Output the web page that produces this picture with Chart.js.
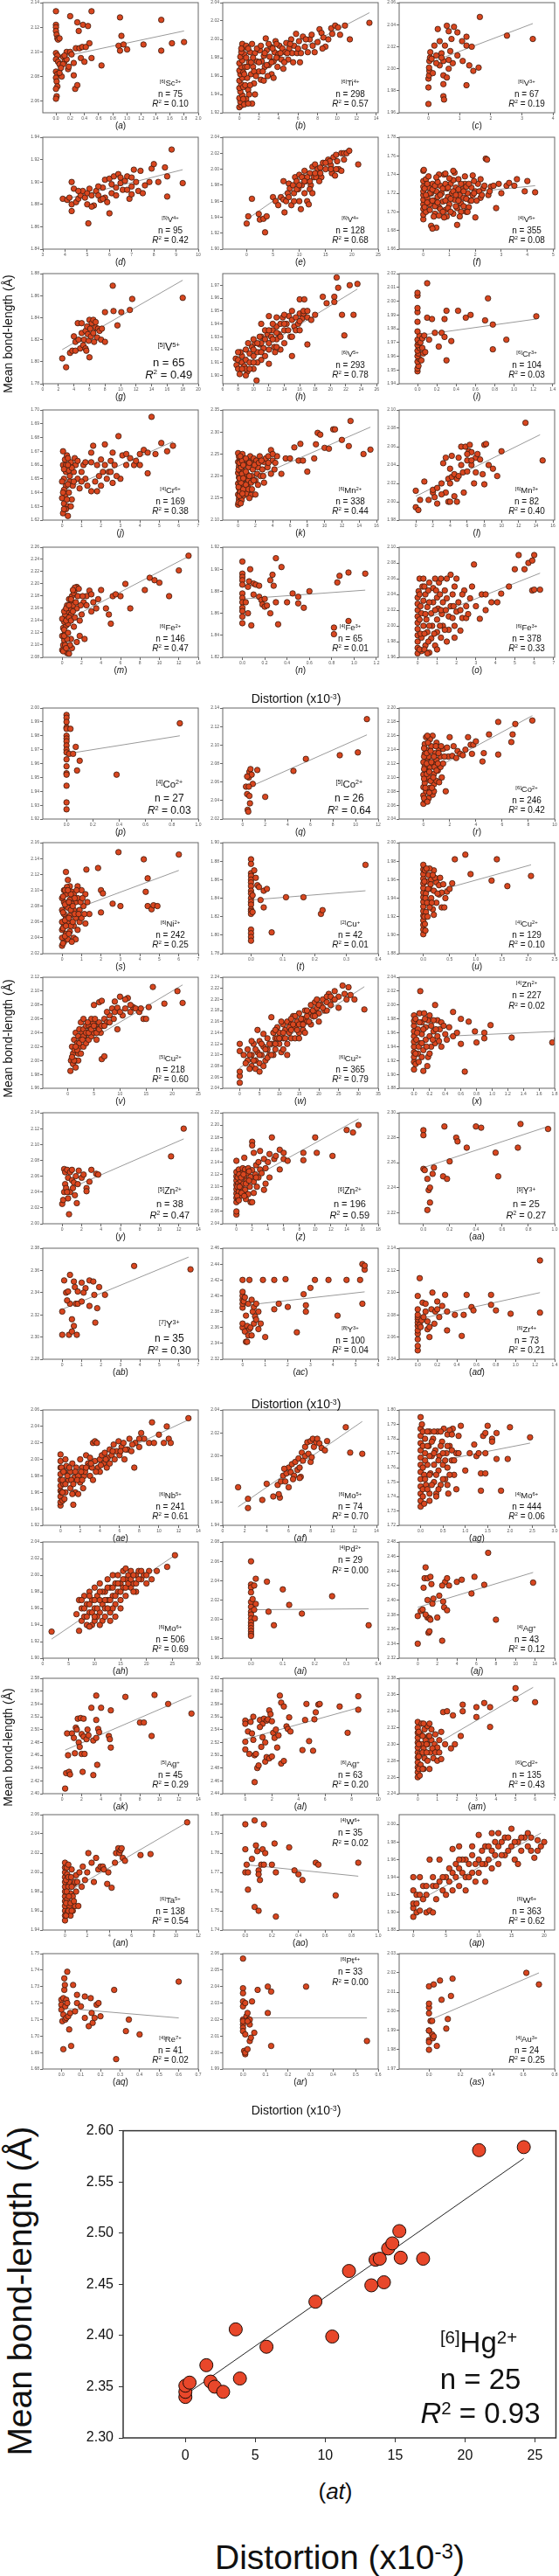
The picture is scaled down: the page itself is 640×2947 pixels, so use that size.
<!DOCTYPE html>
<html>
<head>
<meta charset="utf-8">
<script src="https://cdn.jsdelivr.net/npm/chart.js@4.4.1/dist/chart.umd.min.js"></script>
<style>
body { margin:0; width:640px; height:2947px; position:relative; background:#fff; overflow:hidden; font-family: Arial, "Liberation Sans", sans-serif; }
canvas { position:absolute; }
.t { position:absolute; white-space:nowrap; transform:translate(-50%,-50%); color:#111; line-height:1; }
.rot { transform:translate(-50%,-50%) rotate(-90deg); }
sup { font-size:.62em; vertical-align:baseline; position:relative; top:-.5em; }
</style>
</head>
<body>
<script>
// panel ids, ions and fit statistics
const panelIds = ['a','b','c','d','e','f','g','h','i','j','k','l','m','n','o','p','q','r','s','t','u','v','w','x','y','z',
  'aa','ab','ac','ad','ae','af','ag','ah','ai','aj','ak','al','am','an','ao','ap','aq','ar','as'];
const coordNo = [6,6,6,5,6,4,5,6,6,4,6,6,6,4,6, 4,5,6,6,2,4,5,6,4,5,6,6,7,8,6, 6,6,4,6,4,4,5,6,6,6,4,6,4,6,4];
const elements = ['Sc','Ti','V','V','V','V','V','V','Cr','Cr','Mn','Mn','Fe','Fe','Fe',
  'Co','Co','Co','Ni','Cu','Cu','Cu','Cu','Zn','Zn','Zn','Y','Y','Y','Zr',
  'Nb','Mo','Mo','Mo','Pd','Ag','Ag','Ag','Cd','Ta','W','W','Re','Pt','Au'];
const charges = ['3+','4+','3+','4+','4+','5+','5+','5+','3+','6+','2+','3+','2+','3+','3+',
  '2+','2+','2+','2+','+','2+','2+','2+','2+','2+','2+','3+','3+','3+','4+',
  '5+','5+','6+','6+','2+','+','+','+','2+','5+','6+','6+','7+','4+','3+'];
const nValues = [75,298,67,95,128,355,65,293,104,169,338,82,146,65,378,
  27,26,246,242,42,129,218,365,227,38,196,25,35,100,73,
  241,74,444,506,29,43,45,63,135,138,35,363,41,33,24];
const r2Values = ['0.10','0.57','0.19','0.42','0.68','0.08','0.49','0.78','0.03','0.38','0.44','0.40','0.47','0.01','0.33',
  '0.03','0.64','0.42','0.25','0.01','0.10','0.60','0.79','0.02','0.47','0.59','0.27','0.30','0.04','0.21',
  '0.61','0.70','0.06','0.69','0.00','0.12','0.29','0.20','0.43','0.54','0.02','0.62','0.02','0.00','0.25'];
const annTop = ['x','ai','ao','ar'];
const annSize = [10,10,10,10,10,10,13,10,10,10,10,10,10,10,10, 12,12,10,10,10,10,10,10,10,11,11,11,12,10,10, 10,10,10,10,10,10,10,10,10,10,10,10,10,10,10];

// axis ranges and tick labels
const xMin = [-0.185,-1.7,-0.94,3,-4.55,-0.93,0,6,-0.19,-0.99,-1.78,-1.94,-2,-0.176,-0.95,
  -0.18,-1.76,-1.85,-0.99,-0.089,-0.46,-4.8,-4.3,-0.19,-2,-1.74,-0.185,-1,-0.88,-0.19,
  -1.8,0,-0.48,0,-0.089,-1.9,-2,-1.7,-0.95,-2,-0.17,-2.16,-0.095,-0.09,-0.19];
const xMax = [2.0,14.2,4.05,10,25,5.05,20,26.2,1.42,7,16.2,16.2,14,1.216,7.05,
  1.0,12,10,7,0.4,2.5,25,35,1.8,14,18,1.0,7,6,1.4,
  14,14.15,3.0,30,0.4,14,14,10,7,12,1.0,21.6,0.7,0.6,0.8];
const xTickFrom = [0,0,0,3,0,0,0,6,0,0,0,0,0,0,0, 0,0,0,0,0,0,0,0,0,0,0,0,0,0,0, 0,0,0,0,0,0,0,0,0,0,0,0,0,0,0];
const xTickTo = [2,14,4,10,25,5,20,26,1.4,7,16,16,14,1.2,7,
  1,12,10,7,0.4,2.5,25,35,1.8,14,18,1,7,6,1.4,
  14,14,3,30,0.4,14,14,10,7,12,1,20,0.7,0.6,0.8];
const xTickStep = [0.2,2,1,1,5,1,2,2,0.2,1,2,2,2,0.2,1,
  0.2,2,2,1,0.1,0.5,5,5,0.2,2,2,0.2,1,1,0.2,
  2,2,0.5,5,0.1,2,2,2,1,2,0.2,5,0.1,0.1,0.2];
const xDecimals = [1,0,0,0,0,0,0,0,1,0,0,0,0,1,0, 1,0,0,0,1,1,0,0,1,0,0,1,0,0,1, 0,0,1,0,1,0,0,0,0,0,1,0,1,1,1];
const yMin = [2.0506,1.92,1.96,1.84,1.90,1.66,1.78,1.8935,1.94,1.62,2.10,1.98,2.08,1.82,1.96,
  1.92,2.02,2.04,2.02,1.78,1.88,1.96,2.04,1.88,2.00,2.04,2.211,2.28,2.32,2.04,
  1.92,1.94,1.72,1.90,1.96,2.32,2.40,2.44,2.24,1.94,1.74,1.88,1.68,1.99,1.97];
const yMax = [2.14,2.04,2.06,1.94,2.04,1.78,1.88,1.979,2.02,1.70,2.35,2.10,2.26,1.92,2.10,
  2.00,2.14,2.20,2.16,1.90,2.00,2.12,2.24,2.04,2.14,2.22,2.30,2.38,2.46,2.14,
  2.06,2.04,1.80,2.04,2.08,2.48,2.58,2.62,2.38,2.06,1.80,2.011,1.75,2.06,2.03];
const yTickFrom = [2.06,1.92,1.96,1.84,1.90,1.66,1.78,1.90,1.94,1.62,2.10,1.98,2.08,1.82,1.96,
  1.92,2.02,2.04,2.02,1.78,1.88,1.96,2.04,1.88,2.00,2.04,2.22,2.28,2.32,2.04,
  1.92,1.94,1.72,1.90,1.96,2.32,2.40,2.44,2.24,1.94,1.74,1.88,1.68,1.99,1.97];
const yTickTo = [2.14,2.04,2.06,1.94,2.04,1.78,1.88,1.97,2.02,1.70,2.35,2.10,2.26,1.92,2.10,
  2.00,2.14,2.20,2.16,1.90,2.00,2.12,2.24,2.04,2.14,2.22,2.30,2.38,2.46,2.14,
  2.06,2.04,1.80,2.04,2.08,2.48,2.58,2.62,2.38,2.06,1.80,2.00,1.75,2.06,2.03];
const yTickStep = [0.02,0.02,0.02,0.02,0.02,0.02,0.02,0.01,0.01,0.01,0.05,0.02,0.02,0.02,0.02,
  0.01,0.02,0.02,0.02,0.02,0.02,0.02,0.02,0.02,0.02,0.02,0.02,0.02,0.02,0.02,
  0.02,0.02,0.01,0.02,0.02,0.02,0.02,0.02,0.02,0.02,0.01,0.02,0.01,0.01,0.01];

// regression lines (start and end)
const trendX0 = [0,0,0,3.9,0,0,2.5,7.7,0,0,0,0,0,0,0, 0,0.3,0,0.2,0,0.4,1,0,0.4,1.8,0,0,0,0.4,0,
  0,1.4,0.3,1.7,0,0,0.3,0,0,0,0,0,0,0,0.02];
const trendY0 = [2.095,1.955,2.005,1.884,1.937,1.716,1.811,1.909,1.975,1.641,2.18,2.006,2.137,1.873,2.005,
  1.967,2.053,2.104,2.072,1.838,1.95,2.015,2.077,1.955,2.05,2.1,2.256,2.325,2.389,2.076,
  1.975,1.956,1.764,1.923,2.01,2.39,2.468,2.525,2.287,1.978,1.774,1.91,1.717,2.021,1.996];
const trendX1 = [1.8,13.3,3.35,9.3,19.5,4.3,18,23.5,1.23,5.7,15.3,14.5,13,1.1,6.3,
  0.86,11,8.3,6,0.36,2.05,22,31.5,1.83,12.5,15.5,0.95,6.5,5.4,1.25,
  13,12.7,2.45,25.5,0.37,11.8,13.3,8.5,5.9,11,0.85,19.5,0.6,0.55,0.7];
const trendY1 = [2.117,2.029,2.041,1.911,2.027,1.728,1.874,1.967,1.987,1.677,2.311,2.073,2.245,1.881,2.067,
  1.98,2.111,2.189,2.125,1.848,1.976,2.109,2.223,1.962,2.107,2.21,2.289,2.372,2.405,2.1,
  2.048,2.03,1.777,2.024,2.011,2.438,2.553,2.574,2.369,2.052,1.768,1.99,1.711,2.021,2.02];

// data points [distortion, mean bond length]
const pA = [[0,2.133],[0,2.122],[0,2.12],[0,2.117],[0.01,2.114],[0.02,2.111],[0.03,2.11],[0,2.099],[0.02,2.097],[0,2.094],[0.03,2.092],[0,2.084],[0.02,2.082],[0,2.079],[0.01,2.076],[0.02,2.072],[0,2.07],[0.01,2.064],[0,2.062],[0.05,2.111],[0.05,2.09],[0.08,2.08],[0.1,2.096],[0.12,2.092],[0.15,2.094],[0.15,2.1],[0.17,2.086],[0.18,2.088],[0.2,2.129],[0.2,2.1],[0.22,2.098],[0.25,2.091],[0.25,2.081],[0.27,2.07],[0.28,2.103],[0.3,2.073],[0.3,2.124],[0.32,2.117],[0.33,2.103],[0.35,2.095],[0.37,2.104],[0.38,2.122],[0.4,2.092],[0.42,2.104],[0.45,2.121],[0.47,2.107],[0.5,2.133],[0.5,2.095],[0.64,2.089],[0.88,2.105],[0.9,2.128],[0.9,2.101],[0.92,2.113],[0.95,2.106],[1.0,2.102],[1.23,2.106],[1.48,2.126],[1.48,2.101],[1.63,2.107],[1.8,2.108],[0.1,2.09],[0.12,2.097],[0.05,2.083],[0.07,2.087]];
const pB = [[0,1.926],[0.2,1.928],[0.1,1.932],[0,1.936],[0.3,1.939],[0.1,1.943],[0,1.947],[0.2,1.951],[0.4,1.948],[0,1.955],[0.3,1.958],[0.1,1.962],[0,1.966],[0.4,1.964],[0.2,1.97],[0,1.974],[0.3,1.977],[0.1,1.981],[0.5,1.984],[0.2,1.986],[0.4,1.991],[0.3,1.995],[0.7,1.993],[0.6,1.97],[0.8,1.958],[0.9,1.945],[0.7,1.935],[1.0,1.975],[1.1,1.986],[1.2,1.962],[1.4,1.97],[1.5,1.952],[1.6,1.94],[1.6,1.985],[1.8,1.976],[2.0,1.965],[2.1,1.988],[2.2,1.956],[2.3,1.976],[2.5,1.982],[2.6,1.97],[2.7,2.001],[2.8,1.988],[3.0,1.972],[3.1,1.981],[3.2,1.992],[3.3,1.962],[3.5,1.976],[3.6,1.986],[3.7,1.998],[3.9,1.97],[4.0,1.984],[4.1,1.993],[4.3,1.978],[4.4,1.99],[4.5,1.968],[4.7,1.986],[4.8,1.996],[5.0,1.978],[5.1,1.99],[5.3,2.0],[5.4,1.985],[5.6,1.993],[5.8,2.006],[5.9,1.985],[6.1,1.998],[6.3,1.985],[6.5,2.003],[6.7,1.992],[7.0,1.986],[7.2,2.0],[7.5,1.993],[7.7,1.986],[8.0,1.997],[8.2,2.011],[8.4,2.007],[8.6,2.002],[8.8,1.992],[9.1,2.0],[9.4,2.012],[9.8,2.015],[10.3,2.005],[11.3,2.0],[13.3,2.018],[1.0,1.94],[1.3,1.93],[2.5,1.955],[3.5,1.958],[0.5,1.929],[0.2,1.99],
  [0.6,1.95],[0.5,1.962],[0.7,1.98],[0.9,1.99],[1.1,1.95],[1.2,1.975],[1.3,1.995],[1.5,1.965],[1.7,1.96],[1.8,1.99],[2,1.975],[2.2,1.993],[2.4,1.965],[2.6,1.985],[2.9,1.96],[3,1.995],[3.3,1.975],[3.4,1.99],[3.8,1.98],[4.2,1.985],[4.6,1.975],[5.2,1.995],[5.5,1.975],[6,1.99],[6.8,2.0],[0.9,1.93],[0.4,1.935],[0.8,1.97],[1.4,1.98],[2.8,1.972],[3.8,1.995],[4.9,1.985],[6.2,1.975],[7.4,2.005],[8.5,1.99],[9.5,2.006],[10.1,2.013],[10.8,2.015]];
const pC = [[0,1.968],[0,1.983],[0,1.991],[0.02,1.994],[0.03,1.998],[0.02,2.001],[0.03,2.007],[0.05,2.01],[0.06,2.015],[0.1,2.009],[0.25,2.012],[0.3,2.036],[0.36,2.003],[0.42,2.014],[0.53,2.021],[0.48,2.007],[0.48,1.994],[0.48,1.986],[0.48,1.975],[0.5,1.972],[0.59,2.039],[0.65,2.034],[0.74,2.027],[0.7,2.016],[0.78,2.005],[0.65,2.0],[0.59,1.992],[0.93,2.033],[1.08,2.025],[0.93,2.012],[1.1,2.007],[1.22,2.029],[1.22,2.021],[1.22,1.985],[1.39,2.02],[1.44,1.998],[1.31,2.003],[1.61,2.001],[1.65,2.047],[2.52,2.03],[3.35,2.027],[0.19,2.021],[0.36,2.025],[0.65,2.008],[0.82,2.038],[0.14,1.996],[0.25,2.005],[0.42,2.01]];
const pD = [[3.9,1.885],[4.1,1.884],[4.2,1.886],[4.3,1.88],[4.3,1.874],[4.3,1.9],[4.5,1.882],[4.6,1.885],[4.7,1.888],[4.8,1.892],[4.9,1.886],[5.0,1.89],[5.0,1.88],[5.05,1.863],[5.1,1.894],[5.2,1.888],[5.3,1.879],[5.4,1.892],[5.5,1.888],[5.6,1.884],[5.7,1.895],[5.8,1.902],[5.8,1.886],[5.9,1.882],[6.0,1.903],[6.0,1.872],[6.1,1.89],[6.2,1.905],[6.3,1.895],[6.3,1.888],[6.4,1.907],[6.5,1.899],[6.6,1.893],[6.7,1.901],[6.8,1.905],[6.8,1.893],[6.9,1.885],[7.0,1.904],[7.0,1.896],[7.1,1.911],[7.2,1.9],[7.3,1.892],[7.4,1.91],[7.5,1.89],[7.8,1.9],[7.9,1.912],[8.0,1.916],[8.2,1.9],[8.5,1.913],[8.6,1.905],[8.6,1.887],[8.8,1.929],[9.3,1.899],[4.4,1.894],[4.6,1.892],[5.5,1.896],[6.1,1.898],[6.5,1.904],[7.0,1.889],[7.6,1.897],[5.2,1.878],[5.7,1.885]];
const pE = [[0,1.932],[0.3,1.941],[1,1.963],[2.3,1.944],[2.5,1.937],[3.2,1.938],[3.5,1.921],[3.8,1.941],[5,1.965],[5.5,1.96],[6,1.955],[6.5,1.965],[7,1.985],[7,1.962],[7.2,1.946],[7.5,1.96],[7.8,1.97],[8,1.982],[8.2,1.976],[8.5,1.955],[8.8,1.98],[9,1.97],[9.2,1.99],[9.5,1.985],[9.8,1.975],[10,1.993],[10,1.96],[10.3,1.95],[10.5,1.98],[10.8,1.99],[11,1.998],[11,1.97],[11.3,1.985],[11.5,1.96],[11.8,1.956],[12,1.995],[12.2,1.98],[12.5,2.003],[12.8,1.99],[13,2.006],[13.2,1.99],[13.5,2.0],[14,2.002],[14.2,1.99],[14.5,2.008],[15,2.0],[15.5,2.012],[16,2.005],[16.2,1.995],[16.5,2.015],[17,2.018],[17.2,2.01],[17.5,2.0],[18,2.02],[18,1.998],[18.5,2.02],[19,2.02],[19.5,2.023],[21.2,2.006],[16.8,1.992],[15.8,2.01],[13.8,1.985],[12,1.985],
  [8,1.965],[9,1.96],[9.5,1.975],[10.5,1.99],[11.5,1.99],[12,1.975],[13,1.995],[14,1.995],[15,2.008],[16,2.0],[17,2.0],[18.5,2.012],[12.5,1.97],[10,1.98],[11,1.985]];
const pF = [[0,1.692],[0,1.697],[0,1.703],[0,1.708],[0,1.713],[0,1.718],[0,1.722],[0,1.727],[0,1.733],[0,1.744],[0.02,1.745],[0.1,1.7],[0.15,1.715],[0.2,1.726],[0.25,1.708],[0.3,1.685],[0.3,1.72],[0.35,1.73],[0.4,1.712],[0.45,1.698],[0.5,1.683],[0.5,1.722],[0.55,1.716],[0.6,1.705],[0.65,1.728],[0.7,1.72],[0.75,1.711],[0.8,1.74],[0.85,1.702],[0.9,1.725],[0.95,1.716],[1.0,1.708],[1.05,1.73],[1.1,1.72],[1.15,1.698],[1.2,1.713],[1.25,1.726],[1.3,1.686],[1.3,1.704],[1.35,1.735],[1.4,1.718],[1.45,1.709],[1.5,1.724],[1.55,1.715],[1.6,1.73],[1.65,1.7],[1.7,1.72],[1.8,1.712],[1.85,1.726],[1.9,1.718],[2.0,1.694],[2.0,1.722],[2.1,1.73],[2.2,1.715],[2.3,1.725],[2.4,1.757],[2.45,1.756],[2.5,1.718],[2.6,1.727],[2.8,1.704],[2.9,1.73],[3.0,1.72],[3.2,1.728],[3.3,1.731],[3.5,1.728],[3.6,1.735],[3.9,1.722],[4.0,1.733],[4.3,1.721],[0.1,1.735],[0.6,1.74],[1.2,1.742],[0.4,1.695],[0.9,1.695],
  [0.05,1.705],[0.05,1.725],[0.15,1.71],[0.15,1.73],[0.25,1.72],[0.25,1.702],[0.35,1.712],[0.35,1.724],[0.45,1.706],[0.45,1.728],[0.55,1.71],[0.55,1.732],[0.65,1.703],[0.65,1.718],[0.75,1.725],[0.75,1.7],[0.85,1.712],[0.85,1.73],[0.95,1.704],[0.95,1.726],[1.05,1.714],[1.05,1.7],[1.15,1.722],[1.15,1.734],[1.25,1.706],[1.25,1.718],[1.35,1.712],[1.35,1.724],[1.45,1.73],[1.45,1.7],[1.55,1.722],[1.55,1.706],[1.65,1.714],[1.65,1.727],[1.75,1.705],[1.75,1.73],[1.85,1.712],[1.95,1.72],[1.95,1.733],[2.05,1.712],[2.15,1.722],[2.25,1.718],[2.35,1.728],[2.55,1.722],[2.7,1.728],[0.1,1.718],[0.2,1.738],[0.5,1.737],[1.0,1.736],[1.6,1.738],[1.9,1.739],[2.2,1.735],[0.35,1.682],[0.6,1.696],[0.8,1.694],[1.4,1.695],[1.7,1.7],[0.85,1.741],[1.15,1.744]];
const pG = [[2.5,1.803],[3,1.795],[3.5,1.808],[3.8,1.81],[4,1.823],[4.2,1.818],[4.5,1.835],[4.6,1.82],[4.8,1.812],[5,1.835],[5,1.826],[5.2,1.815],[5.3,1.82],[5.5,1.828],[5.5,1.812],[5.7,1.832],[5.8,1.825],[5.9,1.819],[6,1.838],[6,1.804],[6.1,1.83],[6.2,1.823],[6.3,1.835],[6.5,1.838],[6.5,1.826],[6.6,1.818],[6.8,1.831],[7,1.822],[7.1,1.83],[7.3,1.828],[7.5,1.82],[8,1.845],[8,1.818],[9,1.869],[9.1,1.846],[9.6,1.833],[10.1,1.845],[11.2,1.847],[11.5,1.857],[18,1.858],[4.2,1.81],[5.6,1.81],[6.8,1.836],[7.6,1.83]];
const pH = [[7.7,1.913],[7.8,1.908],[8,1.905],[8,1.912],[8.2,1.901],[8.5,1.91],[8.5,1.915],[8.8,1.907],[9,1.92],[9,1.912],[9.2,1.903],[9.5,1.917],[9.5,1.91],[9.8,1.922],[10,1.915],[10,1.905],[10.2,1.925],[10.4,1.896],[10.5,1.918],[10.8,1.924],[11,1.93],[11,1.912],[11.3,1.921],[11.5,1.928],[11.8,1.932],[12,1.925],[12,1.946],[12,1.909],[12.3,1.93],[12.5,1.935],[12.7,1.922],[13,1.938],[13,1.928],[13.3,1.932],[13.5,1.94],[13.8,1.945],[14,1.935],[14,1.925],[14.3,1.94],[14.6,1.946],[14.8,1.93],[15,1.943],[15,1.915],[15.3,1.938],[15.5,1.945],[15.8,1.94],[16,1.948],[16,1.959],[16.3,1.944],[16.5,1.948],[16.6,1.959],[17,1.945],[17,1.924],[17.5,1.943],[18,1.947],[19,1.961],[19.5,1.956],[20.5,1.961],[20.5,1.957],[20.8,1.976],[21,1.968],[21.5,1.947],[21.8,1.931],[22.5,1.97],[23,1.947],[23.5,1.971],[8.3,1.918],[9.3,1.925],[10.5,1.91],[11.5,1.915],[12.8,1.918],[13.5,1.92],[14,1.947],[10.8,1.93],[12.5,1.94],[9,1.905],[10,1.92],[11,1.925],[13,1.945],
  [8.5,1.905],[9.5,1.905],[10,1.91],[10.5,1.925],[11,1.918],[11.5,1.935],[12,1.92],[12.5,1.928],[13,1.933],[13.5,1.93],[14,1.94],[14.5,1.935],[15,1.95],[15.5,1.935],[16,1.942],[16.5,1.95],[17,1.95],[11,1.94],[12,1.935],[13,1.922],[10,1.928],[9,1.9],[8,1.918],[15,1.93],[16,1.935]];
const pI = [[0,1.949],[0,1.951],[0.01,1.953],[0,1.956],[0.02,1.958],[0,1.96],[0.01,1.962],[0,1.964],[0.02,1.966],[0,1.968],[0.01,1.97],[0,1.972],[0.02,1.975],[0,1.978],[0,1.985],[0,1.992],[0,1.995],[0,2.004],[0,2.006],[0.03,1.97],[0.04,1.957],[0.05,1.966],[0.05,1.973],[0.06,1.962],[0.07,1.975],[0.08,1.963],[0.1,2.013],[0.1,1.988],[0.12,1.972],[0.15,1.987],[0.18,1.977],[0.22,1.967],[0.25,1.977],[0.28,1.974],[0.28,1.987],[0.3,1.957],[0.3,1.993],[0.35,1.971],[0.42,1.993],[0.5,1.988],[0.55,1.99],[0.7,1.986],[0.73,2.002],[0.78,1.983],[0.78,1.965],[0.92,1.972],[1.23,1.989]];
const pJ = [[0.05,1.625],[0.1,1.632],[0.15,1.638],[0.2,1.645],[0.1,1.65],[0.2,1.655],[0.05,1.66],[0.15,1.664],[0.25,1.667],[0.3,1.623],[0.3,1.63],[0.35,1.64],[0.4,1.648],[0.35,1.656],[0.45,1.662],[0.5,1.635],[0.55,1.645],[0.6,1.655],[0.7,1.66],[0.8,1.65],[0.9,1.643],[1,1.655],[1.1,1.66],[1.2,1.65],[1.3,1.645],[1.5,1.641],[1.5,1.662],[1.7,1.648],[1.8,1.66],[1.9,1.652],[2,1.664],[2,1.645],[2.1,1.655],[2.2,1.66],[2.3,1.65],[2.4,1.655],[2.5,1.663],[2.6,1.647],[2.7,1.66],[2.9,1.681],[3,1.65],[3.1,1.667],[3.3,1.66],[3.5,1.665],[3.7,1.66],[3.8,1.663],[4,1.668],[4.2,1.671],[4.4,1.654],[4.4,1.669],[4.6,1.695],[4.8,1.668],[5.1,1.676],[5.4,1.67],[5.7,1.674],[1.6,1.674],[1.5,1.669],[2.2,1.675],[1.8,1.641],[0.3,1.646],[0.4,1.652],[0.2,1.628],[0,1.636],[0.1,1.642],[0.05,1.67],[0.3,1.665],[0.2,1.66],[0.5,1.658],[0,1.648],[0.1,1.657],
  [0.1,1.628],[0.25,1.635],[0.05,1.64],[0.3,1.66],[0.6,1.648],[0.65,1.665],[0.45,1.63],[0.8,1.663],[1.0,1.648],[1.2,1.662],[2.5,1.655],[2.8,1.652],[3.3,1.668],[4.0,1.66],[2.6,1.669]];
const pK = [[0,2.135],[0.2,2.14],[0.1,2.148],[0.3,2.152],[0,2.158],[0.2,2.163],[0.4,2.168],[0.1,2.173],[0.3,2.178],[0,2.183],[0.2,2.188],[0.5,2.192],[0.1,2.197],[0.3,2.202],[0,2.207],[0.2,2.212],[0.4,2.217],[0.1,2.222],[0.3,2.227],[0,2.232],[0.2,2.238],[0.1,2.244],[0,2.252],[0.6,2.155],[0.8,2.165],[0.7,2.18],[0.9,2.195],[0.6,2.21],[0.8,2.225],[0.7,2.24],[1.0,2.16],[1.1,2.175],[1.2,2.19],[1.0,2.205],[1.2,2.22],[1.1,2.235],[1.4,2.245],[1.5,2.157],[1.5,2.185],[1.6,2.2],[1.7,2.215],[1.5,2.23],[1.8,2.24],[2.0,2.158],[2.0,2.19],[2.2,2.205],[2.3,2.22],[2.1,2.235],[2.5,2.245],[2.6,2.2],[2.8,2.215],[3.0,2.232],[3.2,2.24],[3.0,2.185],[3.4,2.22],[3.5,2.245],[3.8,2.259],[4.0,2.235],[4.2,2.215],[4.5,2.245],[5.0,2.205],[5.5,2.24],[6.0,2.24],[6.5,2.265],[7.0,2.235],[7.2,2.273],[7.5,2.235],[8.0,2.21],[8.8,2.24],[9.0,2.272],[9.2,2.298],[9.5,2.294],[10.0,2.264],[10.5,2.262],[11.0,2.306],[11.2,2.306],[12.0,2.282],[12.8,2.268],[13.0,2.325],[14.5,2.25],[15.3,2.26],[1.3,2.15],[0.4,2.145],[0.5,2.25],
  [0.05,2.14],[0.15,2.155],[0.25,2.165],[0.05,2.175],[0.35,2.185],[0.15,2.195],[0.45,2.205],[0.05,2.215],[0.35,2.22],[0.15,2.23],[0.45,2.235],[0.25,2.245],[0.6,2.17],[0.9,2.18],[0.6,2.195],[0.9,2.21],[0.6,2.225],[0.9,2.24],[1.2,2.17],[1.3,2.2],[1.3,2.23],[1.6,2.17],[1.8,2.19],[1.9,2.225],[2.3,2.18],[2.4,2.23],[2.7,2.235],[3.5,2.23],[4.0,2.25],[4.3,2.23],[2.9,2.2],[3.8,2.205],[0.5,2.16],[0.3,2.138]];
const pL = [[0,2.012],[0,1.994],[0.3,1.991],[0.5,2.002],[1,2.022],[1.5,2.002],[2,2.01],[2,2.013],[2.2,2.005],[2.5,2.015],[2.5,1.998],[3,2.02],[3.2,2.042],[3.5,2.048],[3.5,2.01],[3.8,2.025],[3.8,2.0],[4,2.02],[4,2.036],[4.2,2.05],[4.2,2.027],[4.5,2.03],[4.5,2.006],[4.8,2.025],[4.8,2.0],[5,2.028],[5,2.048],[5.3,2.06],[5.3,2.04],[5.5,2.032],[5.8,2.06],[6,2.045],[6,2.033],[6.2,2.055],[6.3,2.062],[6.5,2.04],[6.5,2.054],[6.8,2.02],[7,2.048],[7,2.032],[7.2,2.052],[7.5,2.046],[7.8,2.03],[8,2.062],[8,2.019],[8.2,2.063],[8.5,2.04],[9,2.036],[9.5,2.028],[10,2.055],[12.8,2.086],[14.8,2.045],[4,2.0],[3,2.008],[5.6,2.01],[6.5,2.045],[6,2.052]];
const pM = [[0.5,2.087],[0.7,2.086],[0,2.092],[0.1,2.1],[0.2,2.108],[0,2.115],[0.3,2.12],[0.1,2.128],[0.4,2.132],[0.2,2.138],[0,2.143],[0.5,2.145],[0.3,2.15],[0.6,2.155],[0.8,2.16],[0.5,2.165],[1,2.17],[0.7,2.175],[1,2.18],[1.2,2.185],[1.3,2.19],[1.5,2.195],[1.3,2.194],[1.7,2.192],[0.9,2.11],[1.2,2.13],[1.5,2.105],[1.8,2.115],[2,2.15],[2.2,2.17],[2.5,2.18],[2.8,2.189],[3,2.183],[3.2,2.17],[3.5,2.16],[3.7,2.175],[4,2.19],[4.5,2.16],[4.8,2.15],[5,2.135],[5.2,2.18],[5.5,2.183],[6,2.18],[6.5,2.2],[7,2.16],[8.5,2.19],[9,2.21],[9.5,2.206],[10,2.202],[11,2.18],[12,2.222],[13,2.246],[2.3,2.11],[1.8,2.14],[2.5,2.165],[3,2.155],[1,2.095],[1.5,2.16],[0.2,2.125],[0.6,2.135],[0.9,2.15],[1.1,2.165],
  [0.1,2.09],[0.3,2.1],[0.5,2.11],[0.2,2.115],[0.6,2.12],[0.4,2.14],[0.7,2.145],[0.9,2.14],[0.2,2.155],[0.4,2.16],[0.7,2.165],[1.1,2.155],[0.9,2.175],[1.4,2.17],[1.6,2.18],[1.1,2.19],[1.9,2.165],[2.1,2.18],[1.3,2.145],[0.8,2.1],[0.4,2.095]];
const pN = [[0,1.907],[0,1.896],[0,1.893],[0,1.89],[0,1.886],[0,1.878],[0,1.874],[0,1.87],[0,1.865],[0,1.862],[0,1.857],[0,1.851],[0.03,1.87],[0.05,1.884],[0.05,1.86],[0.06,1.889],[0.07,1.9],[0.08,1.849],[0.1,1.887],[0.12,1.886],[0.15,1.885],[0.15,1.875],[0.17,1.872],[0.18,1.868],[0.2,1.873],[0.2,1.866],[0.22,1.867],[0.25,1.89],[0.27,1.895],[0.28,1.885],[0.3,1.91],[0.3,1.87],[0.32,1.85],[0.35,1.902],[0.45,1.878],[0.5,1.875],[0.5,1.869],[0.55,1.865],[0.6,1.88],[0.82,1.847],[0.82,1.841],[0.85,1.888],[0.87,1.894],[0.95,1.897],[0.95,1.853],[1.1,1.896],[0.25,1.86],[0.4,1.87],[0.1,1.877]];
const pO = [[0,1.965],[0,1.972],[0,1.98],[0,1.988],[0,1.996],[0,2.004],[0,2.012],[0,2.02],[0,2.028],[0,2.036],[0.1,2.06],[0.05,2.044],[0.2,1.968],[0.2,1.985],[0.3,2.0],[0.2,2.016],[0.3,2.032],[0.25,2.05],[0.4,1.975],[0.5,1.992],[0.45,2.008],[0.5,2.024],[0.4,2.04],[0.6,2.055],[0.6,1.966],[0.7,1.984],[0.75,2.0],[0.7,2.016],[0.8,2.03],[0.8,2.048],[0.9,1.975],[1.0,1.992],[1.0,2.008],[1.05,2.022],[1.0,2.036],[1.1,2.055],[1.2,1.985],[1.3,2.0],[1.25,2.015],[1.3,2.03],[1.4,2.045],[1.5,1.98],[1.5,2.06],[1.6,1.995],[1.6,2.012],[1.7,2.025],[1.7,2.065],[1.8,2.04],[1.9,2.0],[2.0,2.018],[2.0,2.06],[2.1,2.03],[2.2,1.994],[2.3,2.01],[2.4,2.045],[2.5,2.01],[2.5,2.025],[2.7,2.035],[2.9,2.078],[3.0,2.025],[3.2,2.009],[3.3,2.04],[3.5,2.04],[3.8,2.03],[4.3,2.041],[4.7,2.05],[5.0,2.072],[5.2,2.09],[5.5,2.072],[5.7,2.08],[5.9,2.083],[6.0,2.09],[5.9,2.045],[6.0,2.046],[6.3,2.046],
  [0.1,1.97],[0.15,1.99],[0.1,2.008],[0.15,2.025],[0.1,2.04],[0.35,1.97],[0.35,1.99],[0.4,2.015],[0.35,2.05],[0.55,1.98],[0.6,2.0],[0.6,2.03],[0.55,2.045],[0.85,1.99],[0.9,2.02],[0.95,2.045],[1.15,2.0],[1.2,2.02],[1.15,2.04],[1.4,1.995],[1.45,2.02],[1.5,2.035],[1.8,2.01],[1.85,2.025],[2.2,2.02],[2.3,2.04],[2.6,2.015],[2.8,2.05],[1.9,2.05],[0.3,2.06],[0.9,2.06],[1.2,2.06],[0.5,1.965],[1.0,1.97],[1.9,1.985],[3.5,2.02],[4.1,2.03]];
const pP = [[0,1.995],[0,1.993],[0,1.99],[0,1.986],[0,1.985],[0,1.98],[0,1.978],[0,1.976],[0,1.973],[0,1.97],[0,1.968],[0,1.963],[0,1.958],[0,1.953],[0,1.952],[0,1.944],[0,1.932],[0,1.927],[0.02,1.967],[0.03,1.985],[0.05,1.967],[0.07,1.972],[0.08,1.955],[0.1,1.962],[0.38,1.952],[0.86,1.989]];
const pQ = [[0.3,2.055],[0.4,2.047],[0.45,2.03],[0.5,2.028],[0.55,2.065],[0.6,2.071],[0.65,2.037],[0.7,2.074],[0.8,2.068],[0.9,2.058],[1.3,2.073],[2,2.044],[4.5,2.072],[5.6,2.085],[8.6,2.089],[10.2,2.092],[11,2.128],[0.4,2.066],[0.55,2.055],[0.6,2.045]];
const pR = [[0,2.062],[0.1,2.068],[0,2.074],[0.2,2.08],[0,2.086],[0.1,2.092],[0.3,2.098],[0,2.104],[0.2,2.11],[0.1,2.116],[0,2.122],[0.3,2.128],[0.1,2.134],[0.2,2.14],[0.1,2.148],[0.2,2.158],[0.4,2.07],[0.5,2.085],[0.4,2.1],[0.5,2.115],[0.4,2.13],[0.6,2.145],[0.7,2.16],[0.7,2.075],[0.8,2.09],[0.8,2.105],[0.7,2.12],[0.9,2.135],[1.0,2.15],[1.0,2.095],[1.1,2.11],[1.0,2.125],[1.2,2.14],[1.3,2.115],[1.3,2.13],[1.5,2.141],[1.4,2.1],[0.8,2.08],[1.2,2.093],[1.7,2.08],[1.5,2.12],[1.8,2.143],[1.9,2.13],[2.0,2.158],[2.2,2.131],[2.5,2.128],[2.6,2.138],[2.8,2.134],[3.0,2.132],[3.4,2.158],[3.6,2.147],[3.7,2.134],[3.8,2.147],[4.0,2.152],[4.5,2.123],[4.6,2.135],[5.0,2.162],[5.7,2.18],[5.7,2.133],[6.7,2.151],[6.8,2.162],[7.0,2.177],[8.3,2.182],[0.5,2.155],[0.3,2.16],
  [0.05,2.07],[0.15,2.085],[0.05,2.098],[0.25,2.105],[0.05,2.112],[0.25,2.12],[0.05,2.13],[0.25,2.135],[0.05,2.142],[0.35,2.15],[0.45,2.078],[0.55,2.095],[0.45,2.108],[0.6,2.122],[0.55,2.138],[0.75,2.1],[0.85,2.115],[0.8,2.13],[0.95,2.145],[1.1,2.12],[1.15,2.135],[1.35,2.145],[1.6,2.13],[0.65,2.085],[1.0,2.11],[2.3,2.145],[3.2,2.14],[0.3,2.065]];
const pS = [[0,2.03],[0.1,2.035],[0,2.04],[0.2,2.045],[0,2.05],[0.1,2.055],[0,2.06],[0.2,2.065],[0.1,2.07],[0,2.075],[0.2,2.08],[0.1,2.085],[0,2.09],[0.2,2.095],[0.1,2.1],[0.3,2.038],[0.4,2.048],[0.3,2.058],[0.4,2.068],[0.3,2.078],[0.4,2.088],[0.5,2.098],[0.4,2.105],[0.6,2.04],[0.6,2.055],[0.7,2.065],[0.6,2.075],[0.7,2.085],[0.6,2.095],[0.8,2.105],[0.8,2.05],[0.9,2.06],[0.9,2.075],[0.8,2.09],[1.0,2.1],[1.0,2.065],[1.1,2.08],[1.2,2.095],[1.2,2.058],[1.3,2.085],[0.2,2.123],[0.25,2.104],[0.3,2.113],[0.7,2.038],[1.25,2.126],[1.85,2.128],[2.0,2.1],[2.1,2.096],[2.0,2.072],[2.6,2.083],[2.9,2.148],[3.0,2.08],[4.2,2.139],[4.4,2.115],[4.3,2.098],[4.4,2.08],[4.6,2.076],[4.7,2.081],[4.9,2.08],[6.0,2.145],[1.4,2.07],[0.5,2.083],
  [0.05,2.033],[0.15,2.042],[0.05,2.052],[0.15,2.062],[0.05,2.072],[0.15,2.082],[0.05,2.092],[0.15,2.1],[0.35,2.045],[0.45,2.055],[0.35,2.065],[0.45,2.075],[0.35,2.085],[0.45,2.095],[0.55,2.06],[0.65,2.07],[0.55,2.08],[0.65,2.09],[0.75,2.1],[0.85,2.07],[0.95,2.085],[1.05,2.09],[1.15,2.07],[0.3,2.1],[0.2,2.055],[0.5,2.035]];
const pT = [[0,1.882],[0,1.877],[0,1.867],[0,1.864],[0,1.86],[0,1.857],[0,1.853],[0,1.848],[0,1.845],[0,1.84],[0,1.836],[0,1.833],[0,1.828],[0,1.826],[0,1.823],[0,1.806],[0,1.802],[0,1.798],[0,1.794],[0.005,1.843],[0.01,1.87],[0.02,1.854],[0.025,1.852],[0.03,1.838],[0.04,1.848],[0.04,1.83],[0.05,1.85],[0.065,1.803],[0.11,1.841],[0.165,1.841],[0.22,1.823],[0.225,1.827],[0.36,1.876],[0.015,1.862],[0.005,1.825]];
const pU = [[0,1.901],[0,1.906],[0,1.911],[0,1.916],[0,1.921],[0,1.926],[0,1.931],[0,1.936],[0,1.941],[0,1.946],[0,1.951],[0,1.956],[0,1.961],[0,1.966],[0,1.971],[0,1.976],[0.03,1.97],[0.05,1.925],[0.05,1.945],[0.08,1.958],[0.1,1.935],[0.1,1.965],[0.12,1.95],[0.15,1.94],[0.15,1.96],[0.18,1.928],[0.2,1.97],[0.2,1.948],[0.25,1.957],[0.25,1.935],[0.3,1.954],[0.3,1.944],[0.35,1.946],[0.35,1.93],[0.38,1.955],[0.4,1.93],[0.45,1.947],[0.5,1.95],[0.55,1.956],[0.6,1.982],[0.8,1.987],[0.9,1.966],[1.3,1.959],[1.4,1.982],[1.6,1.953],[2.05,1.964],[0.2,1.922],[0.12,1.972],[0.03,1.912],
  [0.02,1.92],[0.04,1.94],[0.02,1.958],[0.06,1.972],[0.07,1.935],[0.09,1.95],[0.14,1.955],[0.16,1.935],[0.22,1.962],[0.27,1.945],[0.12,1.93],[0.08,1.92],[0.04,1.905],[0.32,1.962],[0.42,1.94],[0.18,1.965]];
const pV = [[0.5,1.985],[0.6,2.0],[0.8,2.02],[1,2.01],[1,1.995],[1.2,2.03],[1.3,2.015],[1.5,2.0],[1.5,2.04],[1.8,2.025],[2,2.01],[2,2.035],[2.2,2.045],[2.3,2.02],[2.5,2.03],[2.5,2.055],[2.8,2.04],[3,2.02],[3,2.045],[3.2,2.035],[3.5,2.05],[3.5,2.025],[3.8,2.04],[4,2.03],[4,2.05],[4.3,2.045],[4.5,2.035],[4.8,2.055],[5,2.04],[5,2.08],[5.3,2.05],[5.5,2.03],[5.8,2.045],[6,2.055],[6,2.084],[6.3,2.04],[6.5,2.002],[6.5,2.086],[6.8,2.05],[7,2.006],[7,2.06],[7.5,2.055],[8,2.055],[8,2.065],[8.5,2.075],[9,2.07],[9.5,2.045],[9.5,2.076],[10,2.092],[10.5,2.065],[11,2.075],[11.5,2.09],[12,2.07],[12.5,2.077],[13,2.075],[13.7,2.07],[14.5,2.06],[15,2.06],[15.5,2.077],[16.3,2.106],[18.5,2.082],[21,2.1],[22,2.083],[3,2.06],[2,2.0],[1.5,1.99],[4.5,2.06],[7.5,2.07],[11,2.088],
  [1.2,2.0],[1.8,2.015],[2.5,2.01],[3,2.035],[3.5,2.04],[4,2.04],[4.5,2.045],[5,2.05],[5.5,2.04],[6,2.045],[6.5,2.05],[7,2.05],[2.2,2.025],[2.8,2.03],[3.8,2.055],[5.2,2.06],[1.5,2.02],[0.8,2.005],[8.8,2.06],[10,2.07],[12,2.08],[9,2.085],[14,2.075]];
const pW = [[0,2.05],[0,2.062],[0,2.07],[0,2.107],[0,2.12],[1,2.1],[2,2.09],[2,2.11],[3,2.08],[3,2.1],[3.5,2.12],[4,2.09],[4.5,2.105],[4.5,2.145],[5,2.085],[5,2.125],[5.5,2.1],[6,2.115],[6,2.138],[6.5,2.09],[7,2.11],[7,2.13],[7.5,2.1],[8,2.12],[8,2.168],[8.5,2.14],[9,2.11],[9,2.13],[9.5,2.15],[10,2.12],[10,2.14],[10.5,2.105],[11,2.13],[11,2.155],[11.5,2.145],[12,2.12],[12,2.16],[12.5,2.14],[13,2.155],[13,2.13],[13.5,2.17],[14,2.15],[14,2.13],[14.5,2.16],[15,2.14],[15,2.175],[15.5,2.155],[16,2.165],[16,2.145],[16.5,2.18],[17,2.16],[17.5,2.175],[18,2.19],[18,2.155],[18.5,2.17],[19,2.195],[19,2.18],[19.5,2.2],[20,2.175],[20.5,2.19],[21,2.2],[21.5,2.18],[22,2.195],[22.5,2.21],[23,2.19],[23.5,2.2],[24,2.215],[25,2.205],[26,2.225],[26.5,2.21],[27,2.2],[27.5,2.222],[28,2.208],[29,2.2],[31.5,2.182],[2.5,2.075],[4,2.075],[6,2.08],[7,2.095],[3,2.125],[10.5,2.16],[14,2.17],[16.5,2.14],[20,2.16],[22,2.18],[25,2.185],[8.5,2.1],[12,2.1],[5,2.07],
  [1.5,2.085],[2.5,2.1],[3.5,2.09],[4,2.11],[5,2.1],[5.5,2.12],[6.5,2.11],[7.5,2.12],[8,2.1],[9,2.12],[9.5,2.13],[10,2.13],[11,2.14],[11.5,2.13],[12.5,2.15],[13,2.145],[13.5,2.155],[14.5,2.145],[15,2.155],[15.5,2.165],[16,2.155],[17,2.17],[17.5,2.16],[18.5,2.18],[19,2.17],[19.5,2.185],[20,2.19],[21,2.185],[22,2.205],[23,2.205],[24,2.2],[9,2.145],[11,2.11],[13,2.165],[15,2.13],[17,2.18]];
const pX = [[0,1.907],[0,1.918],[0,1.925],[0,1.932],[0,1.94],[0,1.947],[0,1.955],[0,1.962],[0,1.97],[0,1.977],[0,1.985],[0.03,1.95],[0.05,1.93],[0.05,1.965],[0.07,1.988],[0.08,2.02],[0.08,1.945],[0.1,1.958],[0.1,1.975],[0.12,1.905],[0.12,1.935],[0.13,1.988],[0.15,1.95],[0.15,1.968],[0.18,1.925],[0.18,1.978],[0.2,1.955],[0.22,1.94],[0.22,1.97],[0.25,1.962],[0.27,2.0],[0.27,1.945],[0.3,1.978],[0.3,1.955],[0.33,1.965],[0.35,1.94],[0.35,1.975],[0.4,1.958],[0.45,1.968],[0.5,1.99],[0.5,1.955],[0.55,1.96],[0.6,1.98],[0.6,1.944],[0.65,1.904],[0.7,1.976],[0.78,1.962],[0.8,1.946],[0.9,1.96],[0.9,1.952],[0.98,1.971],[1.25,1.953],[1.77,1.946],[1.83,1.951],[0.02,1.915],[0.17,1.912],
  [0.02,1.93],[0.04,1.96],[0.02,1.98],[0.06,1.94],[0.07,1.975],[0.1,1.925],[0.1,1.945],[0.12,1.965],[0.14,1.98],[0.16,1.94],[0.2,1.93],[0.2,1.985],[0.24,1.95],[0.28,1.965],[0.32,1.948],[0.38,1.97],[0.42,1.95],[0.06,1.918],[0.25,1.978]];
const pY = [[0,2.025],[0.1,2.03],[0.2,2.04],[0.2,2.069],[0.3,2.05],[0.3,2.065],[0.4,2.045],[0.5,2.068],[0.6,2.032],[0.6,2.058],[0.7,2.012],[0.8,2.04],[0.8,2.065],[1,2.055],[1,2.068],[1.2,2.052],[1.3,2.036],[1.4,2.06],[1.5,2.026],[1.6,2.05],[1.7,2.067],[2,2.058],[2.2,2.062],[2.5,2.045],[2.5,2.041],[2.8,2.053],[3,2.068],[3.5,2.063],[3.7,2.062],[11.2,2.085],[12.5,2.12],[0.5,2.04],[1.1,2.045]];
const pZ = [[0,2.075],[0,2.082],[0,2.089],[0,2.096],[0,2.103],[0,2.11],[0,2.117],[0,2.124],[0.2,2.08],[0.3,2.092],[0.2,2.105],[0.4,2.115],[0.3,2.128],[0.5,2.085],[0.6,2.098],[0.5,2.11],[0.7,2.122],[0.8,2.13],[0.8,2.09],[0.9,2.105],[1,2.117],[1.1,2.128],[1.1,2.095],[1.3,2.11],[1.4,2.122],[1.5,2.088],[1.5,2.13],[1.7,2.1],[1.8,2.116],[1.8,2.075],[2,2.075],[2,2.127],[2.2,2.108],[2.4,2.12],[2.6,2.1],[2.8,2.115],[3,2.128],[0,2.055],[0,2.06],[0,2.142],[1,2.147],[2,2.173],[2,2.167],[2.2,2.155],[2.5,2.135],[2.8,2.14],[3,2.158],[3.2,2.122],[3.5,2.145],[3.5,2.095],[3.7,2.13],[3.7,2.105],[4,2.14],[4.2,2.153],[4.2,2.115],[4.5,2.18],[4.8,2.145],[5,2.15],[5.5,2.16],[5.5,2.128],[6,2.145],[6,2.155],[6.5,2.142],[8.5,2.155],[8.5,2.143],[10,2.18],[10.2,2.155],[12.2,2.15],[14,2.192],[14.8,2.188],[15.5,2.2],
  [0.1,2.085],[0.1,2.1],[0.15,2.115],[0.35,2.12],[0.4,2.1],[0.6,2.115],[0.65,2.09],[0.9,2.12],[1.2,2.105],[1.2,2.08],[1.6,2.11],[1.6,2.125],[2.2,2.09],[2.5,2.115],[0.3,2.078],[1,2.085]];
const pAA = [[0,2.286],[0,2.282],[0,2.255],[0.01,2.254],[0.03,2.247],[0.04,2.238],[0.05,2.24],[0.05,2.228],[0.07,2.251],[0.08,2.256],[0.15,2.249],[0.16,2.289],[0.18,2.247],[0.2,2.261],[0.25,2.28],[0.26,2.277],[0.33,2.272],[0.4,2.289],[0.44,2.288],[0.55,2.268],[0.57,2.249],[0.72,2.272],[0.74,2.291],[0.95,2.287],[0.03,2.222]];
const pAB = [[0,2.302],[0,2.323],[0.1,2.351],[0.2,2.34],[0.3,2.341],[0.35,2.302],[0.4,2.356],[0.4,2.33],[0.5,2.316],[0.5,2.305],[0.6,2.31],[0.65,2.345],[0.7,2.33],[0.75,2.302],[0.8,2.341],[0.8,2.33],[1,2.349],[1,2.332],[1.2,2.344],[1.4,2.351],[1.4,2.328],[1.6,2.35],[1.65,2.338],[1.7,2.313],[1.8,2.326],[1.9,2.345],[2.2,2.338],[3.7,2.364],[6.6,2.361],[0.25,2.333],[0.6,2.35],[1.1,2.34]];
const pAC = [[0,2.36],[0,2.365],[0,2.385],[0,2.39],[0,2.395],[0,2.4],[0,2.405],[0,2.42],[0.05,2.393],[0.1,2.355],[0.1,2.398],[0.15,2.342],[0.2,2.342],[0.2,2.362],[0.25,2.35],[0.25,2.39],[0.3,2.358],[0.3,2.42],[0.35,2.36],[0.4,2.395],[0.45,2.38],[0.5,2.386],[0.5,2.365],[0.55,2.374],[0.6,2.37],[0.6,2.39],[0.7,2.38],[0.8,2.365],[0.9,2.42],[1,2.348],[1.4,2.383],[1.4,2.42],[1.6,2.39],[1.9,2.421],[2,2.386],[2.4,2.354],[2.7,2.402],[2.8,2.38],[2.8,2.388],[3.2,2.42],[3,2.41],[3.8,2.42],[4.2,2.375],[4.6,2.42],[5.2,2.42],[5.3,2.39],[5.3,2.44],[5.4,2.433],[5.4,2.438],[0.4,2.35],[0.15,2.375],[0.7,2.358]];
const pAD = [[0,2.048],[0,2.052],[0,2.058],[0,2.063],[0,2.066],[0,2.07],[0,2.073],[0,2.076],[0,2.078],[0,2.08],[0,2.085],[0,2.097],[0.02,2.113],[0.02,2.071],[0.03,2.069],[0.04,2.075],[0.05,2.091],[0.06,2.078],[0.08,2.09],[0.1,2.074],[0.1,2.067],[0.12,2.069],[0.12,2.06],[0.14,2.085],[0.15,2.1],[0.17,2.072],[0.18,2.083],[0.2,2.085],[0.22,2.078],[0.25,2.088],[0.28,2.098],[0.3,2.066],[0.3,2.083],[0.38,2.08],[0.45,2.061],[0.47,2.08],[0.5,2.098],[0.55,2.087],[0.57,2.084],[0.75,2.098],[0.75,2.089],[0.8,2.084],[0.95,2.081],[1.25,2.082],[1.25,2.129],[0.08,2.083],[0.2,2.092]];
const pAE = [[0,1.944],[0,1.948],[0,1.955],[0,1.962],[0,1.968],[0,1.975],[0,1.982],[0,1.99],[0,1.998],[0,2.006],[0.2,1.95],[0.3,1.97],[0.4,1.985],[0.5,1.96],[0.6,1.992],[0.8,1.975],[1,1.985],[1,1.965],[1.2,1.995],[1.4,1.978],[1.5,1.96],[1.6,1.99],[1.8,1.958],[1.8,1.98],[2,1.972],[2,2.0],[2.2,1.99],[2.4,1.98],[2.5,1.985],[2.6,2.005],[2.8,1.995],[2.9,1.992],[3,1.98],[3,2.002],[3.2,1.99],[3.3,2.02],[3.5,2.022],[3.5,1.998],[3.7,2.02],[3.8,1.99],[4,2.0],[4,1.985],[4.2,2.005],[4.4,1.995],[4.5,2.008],[4.7,1.99],[4.8,2.002],[5,2.012],[5,1.995],[5.2,2.005],[5.4,2.018],[5.5,2.0],[5.7,2.01],[5.9,2.022],[6,2.005],[6.2,2.015],[6.4,2.02],[6.5,2.0],[6.8,2.012],[7,2.025],[7.2,2.01],[7.5,1.99],[7.6,2.02],[8,2.015],[8.2,2.032],[8.5,2.025],[9,2.02],[9.3,2.045],[9.5,2.02],[10,2.03],[10.5,2.02],[10.8,2.04],[11,2.025],[11.2,2.02],[13,2.05],[1.3,1.945],[0.5,2.0],[2.3,1.965],[3.3,1.975],
  [0.1,1.96],[0.2,1.975],[0.1,1.99],[0.3,1.985],[0.5,1.97],[0.7,1.98],[0.9,1.99],[1.1,1.975],[1.3,1.97],[1.5,1.985],[1.7,1.975],[2.2,1.975],[2.6,1.99],[3.1,1.995],[3.6,1.985],[4.1,1.993],[4.6,2.0],[5.3,2.01],[6.1,2.01],[6.6,2.012],[7.3,2.018],[8,2.025],[0.2,1.96],[0.4,1.952],[1.2,1.958],[2.1,1.985]];
const pAF = [[1.4,1.973],[2.3,1.963],[2.3,1.955],[4,1.976],[4.6,1.965],[5.2,1.964],[5,1.975],[5.3,1.978],[5.5,1.983],[5.8,1.985],[5.7,1.978],[6,1.99],[6,1.973],[6.2,1.986],[6.3,1.993],[6.5,1.983],[6.6,1.995],[6.8,1.988],[6.9,1.998],[7,1.99],[7.1,1.982],[7.2,2.003],[7.3,1.996],[7.5,2.0],[7.5,2.008],[7.7,2.012],[7.8,2.002],[8,2.013],[8,1.995],[8.2,2.015],[8.3,2.008],[8.5,2.012],[8.6,2.015],[8.8,2.011],[9,2.007],[9.3,2.005],[9.5,2.013],[11.2,2.025],[11.6,2.003],[12.7,2.002],[5.1,1.967],[6.4,1.98],[7,1.981],[8.1,1.999],[5.6,1.989],[3.6,1.962]];
const pAG = [[0,1.733],[0,1.737],[0,1.742],[0,1.747],[0,1.752],[0,1.757],[0,1.762],[0,1.767],[0,1.772],[0,1.777],[0,1.782],[0,1.787],[0,1.795],[0.03,1.79],[0.05,1.74],[0.08,1.755],[0.1,1.77],[0.1,1.78],[0.12,1.748],[0.15,1.762],[0.18,1.775],[0.2,1.742],[0.2,1.785],[0.22,1.756],[0.25,1.768],[0.28,1.78],[0.3,1.75],[0.3,1.762],[0.33,1.772],[0.35,1.742],[0.38,1.785],[0.4,1.758],[0.42,1.768],[0.45,1.748],[0.48,1.778],[0.5,1.762],[0.52,1.787],[0.55,1.752],[0.58,1.77],[0.6,1.76],[0.62,1.742],[0.65,1.775],[0.7,1.765],[0.72,1.787],[0.75,1.755],[0.8,1.77],[0.8,1.745],[0.85,1.782],[0.9,1.789],[1,1.758],[1.1,1.77],[1.2,1.776],[1.25,1.768],[1.3,1.77],[1.35,1.756],[1.35,1.744],[1.4,1.782],[1.45,1.784],[1.45,1.77],[1.45,1.756],[1.5,1.789],[1.6,1.78],[1.6,1.778],[1.7,1.784],[1.7,1.766],[1.8,1.744],[1.95,1.766],[2,1.788],[2.45,1.781],
  [0.05,1.745],[0.05,1.76],[0.05,1.775],[0.1,1.752],[0.1,1.765],[0.15,1.745],[0.15,1.775],[0.2,1.755],[0.2,1.768],[0.25,1.748],[0.25,1.778],[0.3,1.77],[0.35,1.755],[0.4,1.765],[0.4,1.745],[0.45,1.775],[0.5,1.752],[0.5,1.77],[0.55,1.765],[0.6,1.775],[0.65,1.755],[0.7,1.772],[0.75,1.765],[0.85,1.77],[0.05,1.785],[0.15,1.785],[0.3,1.785],[0.45,1.785],[0.6,1.783],[0.2,1.737],[0.08,1.735],[0.35,1.74],[0.6,1.748],[0.65,1.786],[0.7,1.783]];
const pAH = [[1.7,1.932],[6.5,1.953],[7,1.933],[7,1.97],[7.5,1.96],[7.5,1.945],[8,1.975],[8,1.95],[8.5,1.94],[8.5,1.965],[9,1.98],[9,1.955],[9.5,1.94],[9.5,1.97],[10,1.96],[10,1.985],[10,1.945],[10.5,1.975],[11,1.955],[11,1.99],[11.5,1.965],[11.5,1.945],[12,1.98],[12,1.96],[12.5,1.995],[12.5,1.97],[13,1.955],[13,1.985],[13.5,1.975],[13.5,2.0],[14,1.965],[14,1.99],[14.5,1.98],[14.5,2.0],[15,1.97],[15,1.99],[15.5,2.005],[15.5,1.985],[16,1.975],[16,1.995],[16.5,2.0],[17,1.985],[17,2.005],[17.5,1.99],[18,2.0],[18,1.98],[18.5,2.005],[19,1.995],[19.5,2.0],[20,1.99],[20.5,2.005],[21,1.995],[22,2.005],[24,2.01],[25.5,2.024],[11,1.94],[13,1.945],[9,1.938],[16,2.008],[14,1.95],
  [8,1.96],[8.5,1.95],[9,1.965],[9.5,1.955],[10,1.97],[10.5,1.96],[11,1.97],[11.5,1.98],[12,1.97],[12.5,1.985],[13,1.97],[13.5,1.985],[14,1.975],[14.5,1.99],[15,1.98],[15.5,1.995],[16,1.985],[16.5,1.99],[17,1.995],[17.5,2.0],[18,1.99],[19,2.005],[20,2.0],[7.5,1.97],[10.5,1.95],[12,1.95],[13.5,1.96],[15,1.96],[17.5,1.98],[11,1.98],[12.5,1.96],[18.5,1.995],[9,1.975],[10,1.95]];
const pAI = [[0,2.06],[0,2.036],[0,2.033],[0,2.028],[0,2.018],[0,2.013],[0,2.008],[0,2.005],[0,2.001],[0,1.997],[0,1.994],[0,1.991],[0,1.988],[0,1.985],[0,1.983],[0.01,2.035],[0.015,2.016],[0.015,2.042],[0.012,2.001],[0.05,2.039],[0.055,2.008],[0.072,1.994],[0.1,2.031],[0.12,2.015],[0.16,2.006],[0.255,2.024],[0.37,1.994],[0.005,2.021],[0.01,2.01]];
const pAJ = [[0,2.34],[0,2.378],[0.3,2.385],[0.5,2.387],[0.6,2.417],[0.7,2.43],[0.8,2.445],[1,2.376],[1,2.43],[1.1,2.355],[1.2,2.357],[1.2,2.375],[1.3,2.373],[1.3,2.432],[1.4,2.422],[1.5,2.395],[1.6,2.402],[2,2.376],[2.2,2.406],[2.5,2.344],[2.6,2.398],[2.7,2.39],[2.8,2.425],[3,2.43],[3,2.386],[3.2,2.42],[4,2.425],[4.5,2.428],[5.5,2.409],[5.8,2.432],[6.8,2.421],[7.2,2.465],[8,2.373],[11.8,2.424],[1,2.4],[2.5,2.42],[0.8,2.38]];
const pAK = [[0.3,2.408],[0.4,2.432],[0.5,2.494],[0.6,2.46],[0.7,2.434],[0.8,2.43],[1,2.494],[1.2,2.487],[1.3,2.463],[1.4,2.503],[1.5,2.5],[1.6,2.517],[1.7,2.48],[1.8,2.473],[1.9,2.518],[2,2.493],[2,2.462],[2.1,2.434],[2.2,2.517],[2.2,2.489],[2.3,2.462],[2.5,2.485],[2.7,2.491],[3,2.534],[3.2,2.483],[3.2,2.429],[3.5,2.553],[3.5,2.515],[3.5,2.487],[3.6,2.445],[3.7,2.501],[3.8,2.496],[4,2.534],[4.8,2.49],[4.9,2.485],[5,2.472],[5,2.53],[6.5,2.551],[8,2.511],[8.4,2.511],[9.2,2.49],[9.5,2.554],[10.9,2.54],[13.3,2.525],[2.6,2.5]];
const pAL = [[0,2.554],[0,2.549],[0,2.521],[0,2.509],[0.2,2.537],[0.3,2.502],[0.4,2.552],[0.5,2.534],[0.6,2.524],[0.7,2.5],[0.7,2.458],[0.8,2.502],[0.9,2.48],[1,2.484],[1.1,2.555],[1.2,2.513],[1.3,2.528],[1.3,2.549],[1.4,2.557],[1.5,2.52],[1.5,2.49],[1.6,2.554],[1.6,2.497],[1.7,2.556],[1.8,2.57],[1.8,2.495],[1.9,2.564],[2,2.498],[2,2.553],[2.1,2.535],[2.2,2.527],[2.3,2.54],[2.5,2.531],[2.6,2.593],[2.7,2.582],[2.7,2.487],[2.9,2.576],[2.9,2.491],[3.1,2.545],[3.2,2.541],[3.3,2.559],[3.4,2.537],[4.3,2.508],[4.5,2.555],[4.6,2.58],[4.8,2.522],[5.1,2.507],[5.2,2.556],[5.3,2.567],[5.5,2.579],[5.6,2.58],[7.1,2.576],[7.7,2.535],[8.5,2.592],[8.5,2.571],[1.1,2.544],[2.4,2.512],[0.6,2.56]];
const pAM = [[0,2.26],[0,2.266],[0,2.272],[0,2.278],[0,2.284],[0,2.29],[0,2.296],[0,2.302],[0,2.308],[0,2.314],[0,2.32],[0,2.327],[0.1,2.262],[0.15,2.275],[0.1,2.288],[0.2,2.3],[0.15,2.312],[0.2,2.325],[0.3,2.27],[0.35,2.283],[0.3,2.295],[0.4,2.305],[0.35,2.318],[0.5,2.28],[0.5,2.3],[0.55,2.31],[0.5,2.322],[0.65,2.29],[0.7,2.305],[0.7,2.318],[0.8,2.283],[0.85,2.3],[0.9,2.312],[1,2.296],[1,2.28],[1.1,2.305],[1.2,2.282],[1.3,2.339],[1.4,2.3],[1.5,2.34],[1.7,2.295],[1.8,2.335],[1.9,2.3],[2.2,2.31],[2.3,2.348],[2.3,2.34],[3,2.345],[3,2.333],[3.4,2.35],[3.7,2.345],[3.7,2.321],[5,2.368],[5,2.355],[6,2.351],[0.6,2.27],[1.2,2.315],
  [0.05,2.27],[0.05,2.285],[0.05,2.3],[0.05,2.315],[0.25,2.27],[0.25,2.29],[0.25,2.31],[0.45,2.29],[0.45,2.3],[0.6,2.31],[0.75,2.295],[0.9,2.29],[0.6,2.325],[0.3,2.325],[1.1,2.29]];
const pAN = [[0,1.95],[0,1.955],[0,1.96],[0,1.965],[0,1.97],[0,1.975],[0,1.98],[0,1.985],[0,1.99],[0,1.995],[0,2.0],[0,2.005],[0,2.01],[0.2,1.958],[0.2,1.972],[0.3,1.985],[0.2,1.998],[0.4,1.965],[0.5,1.978],[0.4,1.99],[0.6,2.003],[0.7,1.96],[0.7,1.975],[0.8,1.988],[0.9,1.965],[1,1.997],[1,1.98],[1.2,1.965],[1.3,2.0],[1.6,2.006],[1.8,1.992],[2,2.0],[2.1,2.02],[2.4,2.01],[2.6,1.99],[2.8,2.015],[3,2.003],[3.2,2.006],[3.4,2.006],[3.5,2.003],[3.8,1.988],[3.9,2.0],[4.2,1.984],[4.5,2.01],[4.6,2.02],[4.8,2.025],[4.9,2.02],[5,2.023],[5.1,2.025],[5.2,2.015],[5.4,2.012],[6.8,2.018],[7.7,2.019],[11,2.052],[1.5,1.985],[0.5,1.955],
  [0.1,1.955],[0.1,1.968],[0.15,1.98],[0.1,1.992],[0.15,2.005],[0.3,1.96],[0.35,1.975],[0.3,1.995],[0.5,1.968],[0.6,1.985],[0.55,1.995],[0.8,1.97],[0.9,1.99],[1.1,1.99],[0.3,2.008],[0.6,1.96]];
const pAO = [[0,1.795],[0,1.782],[0,1.77],[0.01,1.774],[0.02,1.77],[0.02,1.761],[0.07,1.797],[0.08,1.784],[0.07,1.752],[0.1,1.75],[0.1,1.771],[0.1,1.769],[0.11,1.766],[0.12,1.774],[0.13,1.782],[0.14,1.774],[0.14,1.795],[0.15,1.78],[0.2,1.774],[0.22,1.785],[0.23,1.77],[0.23,1.747],[0.33,1.783],[0.37,1.771],[0.4,1.769],[0.43,1.766],[0.53,1.775],[0.55,1.774],[0.68,1.758],[0.85,1.775],[0.09,1.781],[0.05,1.777]];
const pAP = [[0,1.895],[0,1.905],[0,1.91],[0,1.925],[0,1.94],[0.5,1.9],[0.5,1.92],[1,1.902],[1,1.94],[1.5,1.93],[2,1.9],[2,1.92],[2.5,1.902],[2.5,1.96],[3,1.9],[3,1.93],[3.5,1.915],[4,1.935],[4.5,1.925],[5,1.94],[5,1.92],[5.5,1.935],[6,1.972],[6,1.945],[6,1.925],[6.5,1.94],[7,1.975],[7,1.95],[7,1.93],[7.5,1.945],[8,1.96],[8,1.94],[8.5,1.955],[9,1.965],[9,1.945],[9.5,1.935],[10,1.988],[10,1.96],[10,1.945],[10.5,1.97],[11,1.955],[11,1.975],[11.5,1.96],[12,1.99],[12,1.97],[12,1.95],[12.5,1.965],[13,1.975],[13,1.955],[13.5,1.98],[14,1.965],[14,1.985],[14.5,1.97],[15,1.995],[15,1.975],[15.5,1.96],[16,1.98],[16.5,1.97],[17,1.985],[17.5,1.975],[18,1.985],[18.5,1.962],[19,1.982],[19.5,1.975],[20,1.98],[4,1.96],[8,1.925],[11,1.935],[16,1.955],
  [0.5,1.91],[1,1.92],[1.5,1.915],[2,1.93],[3,1.94],[3.5,1.93],[4.5,1.94],[5.5,1.95],[6.5,1.955],[7.5,1.96],[8.5,1.94],[9.5,1.955],[10.5,1.955],[11.5,1.975],[12.5,1.98],[13.5,1.965],[14.5,1.985],[15.5,1.98],[16.5,1.985],[17.5,1.99],[18,1.97],[19,1.97],[13,1.99],[9,1.975],[7,1.96]];
const pAQ = [[0,1.722],[0,1.719],[0,1.716],[0.005,1.709],[0.01,1.723],[0.01,1.713],[0.01,1.692],[0.015,1.735],[0.015,1.728],[0.018,1.731],[0.02,1.718],[0.02,1.71],[0.025,1.722],[0.025,1.711],[0.03,1.739],[0.03,1.72],[0.035,1.712],[0.04,1.704],[0.045,1.714],[0.05,1.694],[0.06,1.731],[0.07,1.715],[0.08,1.725],[0.08,1.72],[0.1,1.718],[0.12,1.724],[0.12,1.711],[0.14,1.706],[0.15,1.723],[0.155,1.714],[0.16,1.708],[0.17,1.711],[0.18,1.719],[0.19,1.72],[0.2,1.712],[0.27,1.728],[0.28,1.686],[0.33,1.703],[0.345,1.71],[0.4,1.701],[0.6,1.733]];
const pAR = [[0,2.057],[0,2.039],[0,2.036],[0,2.031],[0,2.028],[0,2.02],[0,2.017],[0,2.015],[0,2.013],[0,2.019],[0.005,2.001],[0.01,1.999],[0.01,2.0],[0.01,2.03],[0.015,2.022],[0.02,2.002],[0.02,2.024],[0.025,2.02],[0.03,2.017],[0.03,2.02],[0.03,2.007],[0.035,2.009],[0.04,2.031],[0.05,2.012],[0.065,2.038],[0.11,2.04],[0.11,2.024],[0.125,2.004],[0.125,2.037],[0.28,2.04],[0.55,2.007],[0.02,2.019],[0.01,2.011]];
const pAS = [[0,1.98],[0,1.985],[0,1.984],[0,1.99],[0,1.999],[0,2.002],[0,2.004],[0,2.013],[0.01,1.995],[0.02,1.988],[0.025,1.986],[0.03,1.987],[0.03,2.014],[0.05,1.982],[0.07,2.016],[0.08,2.006],[0.11,1.991],[0.12,1.996],[0.14,2.008],[0.15,2.017],[0.62,2.02],[0.7,2.014],[0,1.99],[0.02,1.995]];
const panelPoints = [pA,pB,pC,pD,pE,pF,pG,pH,pI,pJ,pK,pL,pM,pN,pO,pP,pQ,pR,pS,pT,pU,pV,pW,pX,pY,pZ,
  pAA,pAB,pAC,pAD,pAE,pAF,pAG,pAH,pAI,pAJ,pAK,pAL,pAM,pAN,pAO,pAP,pAQ,pAR,pAS];

// big panel (at), [6]Hg2+
const hgDistortion = [0,0,0,0.3,1.5,1.8,2.1,2.7,3.6,3.9,5.8,9.3,10.5,11.7,13.3,13.6,13.9,14.2,14.5,14.8,15.3,15.4,17,21,24.2];
const hgBondLength = [2.34,2.345,2.351,2.354,2.371,2.355,2.35,2.345,2.406,2.358,2.389,2.433,2.399,2.463,2.449,2.474,2.475,2.452,2.485,2.49,2.502,2.476,2.475,2.581,2.584];
const hgTrendX = [0, 24.2];
const hgTrendY = [2.342, 2.573];

// page layout: plot box top/bottom per row
const colLeft = [49, 255, 457];
const rowTop =    [3, 157, 313, 469, 626,   810, 964, 1118, 1273, 1428,   1613, 1764, 1920, 2076, 2235];
const rowBottom = [129, 285, 439, 595, 752,   937, 1091, 1245, 1400, 1555,   1745, 1897, 2052, 2208, 2367];
const boxW = 178;
const FONT = 'Arial, "Liberation Sans", sans-serif';

const framePlugin = {
  id: 'frame',
  afterDraw(chart, args, opts) {
    const a = chart.chartArea, c = chart.ctx;
    c.save();
    c.strokeStyle = opts.color;
    c.lineWidth = opts.width;
    c.strokeRect(a.left, a.top, a.right - a.left, a.bottom - a.top);
    c.restore();
  }
};

function tickList(from, to, step) {
  const out = [];
  const n = Math.round((to - from) / step);
  for (let i = 0; i <= n; i++) out.push({ value: +(from + i * step).toFixed(6) });
  return out;
}

function text(html, x, y, size, cls) {
  const d = document.createElement('div');
  d.className = 't' + (cls ? ' ' + cls : '');
  d.innerHTML = html;
  d.style.left = x + 'px';
  d.style.top = y + 'px';
  d.style.fontSize = size + 'px';
  document.body.appendChild(d);
}

function drawPanel(cfg) {
  const cv = document.createElement('canvas');
  cv.width = cfg.w + cfg.padL + cfg.padR;
  cv.height = cfg.h + cfg.padT + cfg.padB;
  cv.style.left = (cfg.left - cfg.padL) + 'px';
  cv.style.top = (cfg.top - cfg.padT) + 'px';
  document.body.appendChild(cv);

  const axis = (min, max, ticks, dec, fit) => ({
    type: 'linear', min: min, max: max,
    afterBuildTicks: s => { s.ticks = ticks; },
    afterFit: fit,
    grid: { drawOnChartArea: false, drawTicks: true, tickLength: cfg.tickLen, color: cfg.axisColor },
    border: { display: false },
    ticks: { autoSkip: false, maxRotation: 0, padding: cfg.tickPad, color: cfg.tickColor,
      font: { size: cfg.tickFont, family: FONT }, callback: v => Number(v).toFixed(dec) }
  });

  new Chart(cv, {
    type: 'scatter',
    data: {
      datasets: [
        { data: cfg.pts, pointRadius: cfg.r, pointBackgroundColor: cfg.fill, pointBorderColor: cfg.edge,
          pointBorderWidth: cfg.edgeW, showLine: false },
        { data: cfg.trend, showLine: true, pointRadius: 0, borderColor: cfg.lineColor, borderWidth: 1, fill: false }
      ]
    },
    options: {
      responsive: false, animation: false, devicePixelRatio: 1,
      layout: { padding: { left: 0, top: cfg.padT, right: cfg.padR, bottom: 0 } },
      plugins: { legend: { display: false }, tooltip: { enabled: false }, frame: { color: cfg.frameColor, width: cfg.frameW } },
      scales: {
        x: axis(cfg.xMin, cfg.xMax, cfg.xTicks, cfg.xDec, s => { s.height = cfg.padB; }),
        y: axis(cfg.yMin, cfg.yMax, cfg.yTicks, cfg.yDec, s => { s.width = cfg.padL; })
      }
    },
    plugins: [framePlugin]
  });
}

// small panels
panelIds.forEach((id, k) => {
  const row = Math.floor(k / 3);
  const left = colLeft[k % 3], top = rowTop[row], bottom = rowBottom[row];
  drawPanel({
    left: left, top: top, w: boxW, h: bottom - top, padL: 24, padR: 8, padT: 6, padB: 14,
    pts: panelPoints[k].map(p => ({ x: p[0], y: p[1] })),
    trend: [{ x: trendX0[k], y: trendY0[k] }, { x: trendX1[k], y: trendY1[k] }],
    xMin: xMin[k], xMax: xMax[k], xTicks: tickList(xTickFrom[k], xTickTo[k], xTickStep[k]), xDec: xDecimals[k],
    yMin: yMin[k], yMax: yMax[k], yTicks: tickList(yTickFrom[k], yTickTo[k], yTickStep[k]), yDec: 2,
    r: 3.2, fill: '#d9461f', edge: '#3a1a0e', edgeW: 0.8, lineColor: '#9a9a9a',
    tickLen: 3, tickPad: 1, tickFont: 5, tickColor: '#555', axisColor: '#666', frameColor: '#666', frameW: 1
  });

  const s = annSize[k];
  const cx = left + boxW - 26 - s * 0.6;
  const lines = ['<sup>[' + coordNo[k] + ']</sup>' + elements[k] + '<sup>' + charges[k] + '</sup>',
    'n = ' + nValues[k], '<i>R</i><sup>2</sup> = ' + r2Values[k]];
  let ys;
  if (annTop.includes(id)) {
    const c1 = top + 8;
    ys = [c1, c1 + 1.3 * s, c1 + 2.5 * s];
  } else {
    const c3 = bottom - 10.5;
    ys = [c3 - 2.4 * s, c3 - 1.1 * s, c3];
  }
  text(lines[0], cx, ys[0], s * 0.95);
  text(lines[1], cx, ys[1], s);
  text(lines[2], cx, ys[2], s);
  text('(<i>' + id + '</i>)', left + boxW / 2, bottom + 15, 10);
});

// section axis titles
[382, 1188, 1999].forEach(y => text('Mean bond-length (Å)', 9, y, 14, 'rot'));
[799, 1606, 2414].forEach(y => text('Distortion (x10<sup>-3</sup>)', 339, y, 14));

// big panel
drawPanel({
  left: 141, top: 2432, w: 496, h: 357, padL: 56, padR: 8, padT: 10, padB: 30,
  pts: hgDistortion.map((x, i) => ({ x: x, y: hgBondLength[i] })),
  trend: hgTrendX.map((x, i) => ({ x: x, y: hgTrendY[i] })),
  xMin: -4.45, xMax: 26.5, xTicks: tickList(0, 25, 5), xDec: 0,
  yMin: 2.30, yMax: 2.60, yTicks: tickList(2.30, 2.60, 0.05), yDec: 2,
  r: 7.5, fill: '#e8472a', edge: '#1a0a05', edgeW: 1, lineColor: '#222',
  tickLen: 5, tickPad: 6, tickFont: 16, tickColor: '#111', axisColor: '#333', frameColor: '#333', frameW: 1.5
});
text('<sup>[6]</sup>Hg<sup>2+</sup>', 548, 2679, 33);
text('n = 25', 550, 2721, 33);
text('<i>R</i><sup>2</sup> = 0.93', 550, 2760, 33);
text('(<i>at</i>)', 384, 2850, 26);
text('Mean bond-length (Å)', 22, 2621, 39, 'rot');
text('Distortion (x10<sup>-3</sup>)', 389, 2925, 39);
</script>
</body>
</html>
